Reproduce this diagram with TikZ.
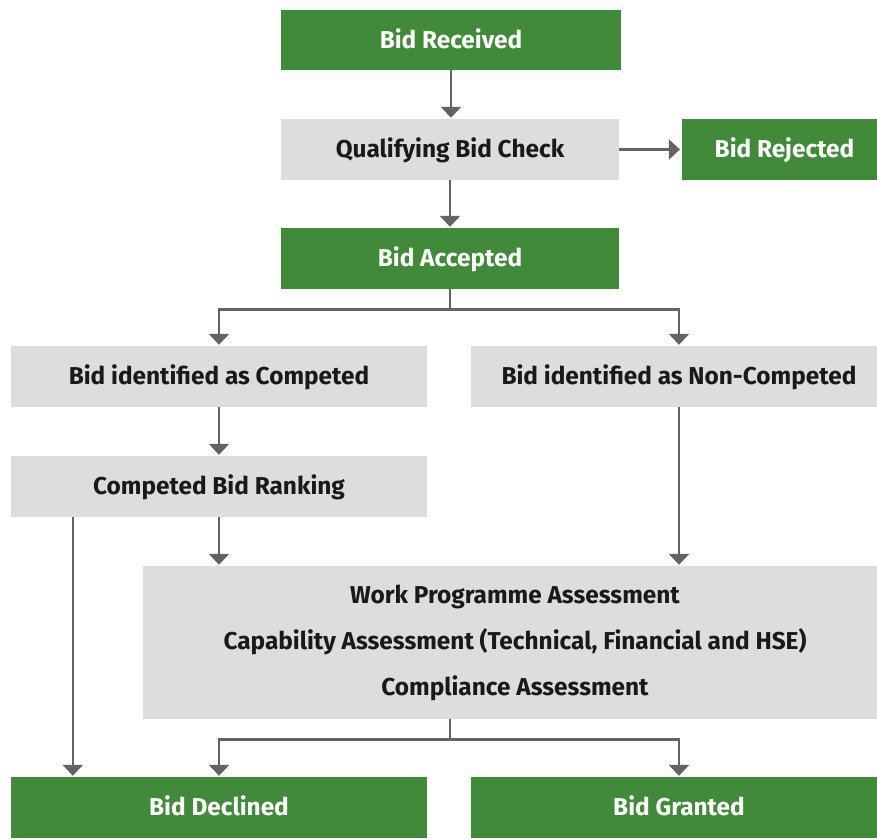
\documentclass[tikz,border=0pt]{standalone}
\usepackage{fontspec}
\setmainfont{Fira Sans}
\usetikzlibrary{arrows.meta,positioning}
\definecolor{bidgreen}{RGB}{65,138,58}
\definecolor{bidgrey}{RGB}{220,221,223}
\definecolor{linegrey}{RGB}{99,99,102}

\begin{document}
\begin{tikzpicture}[x=1pt,y=-1pt,
    box/.style={minimum height=61pt,inner sep=0pt,text height=16.8pt,text depth=0pt,
        font=\bfseries\fontsize{24.4}{28}\selectfont},
    greenbox/.style={box,fill=bidgreen,text=white},
    greybox/.style={box,fill=bidgrey,text=black!90},
    flow/.style={draw=linegrey,line width=2.6pt,-{Triangle[width=20pt,length=11pt]},shorten >=1pt}]
        \clip (0,0) rectangle (877,838);
        \fill[white] (0,0) rectangle (877,838);
        % top part
        \node[greenbox,minimum width=340pt,minimum height=60pt] (recv) at (451,40) {Bid Received};
        \node[greybox,minimum width=338pt] (check) at (450,149.5) {Qualifying Bid Check};
        \node[greenbox,minimum width=205pt] (rej) at (784.5,149.5) {Bid Rejected};
        \node[greenbox,minimum width=338pt] (acc) at (450,258.5) {Bid Accepted};
        % two kinds of bids
        \node[greybox,minimum width=416pt] (comp) at (219,376.5) {Bid identified as Competed};
        \node[greybox,minimum width=416pt] (noncomp) at (679,376.5) {Bid identified as Non-Competed};
        \node[greybox,minimum width=416pt] (rank) at (219,486.5) {Competed Bid Ranking};
        \node[fill=bidgrey,text=black!90,inner sep=0pt,minimum width=744pt,minimum height=153pt,align=center,
            font=\bfseries\fontsize{24.4}{46}\selectfont] (assess) at (515,642.5)
            {Work Programme Assessment\\Capability Assessment (Technical, Financial and HSE)\\Compliance Assessment};
        % outcome
        \node[greenbox,minimum width=416pt] (decl) at (219,807.5) {Bid Declined};
        \node[greenbox,minimum width=416pt] (grant) at (679,807.5) {Bid Granted};

        \draw[flow] (recv.south) -- (recv.south |- check.north);
        \draw[flow,shorten >=2pt] (check) -- (rej);
        \draw[flow] (check) -- (acc);
        \draw[flow] (acc.south) -- ++(0,20) -| (comp.north);
        \draw[flow] (acc.south) -- ++(0,20) -| (noncomp.north);
        \draw[flow] (comp) -- (rank);
        \draw[flow] (rank.south) -- (rank.south |- assess.north);
        \draw[flow] (noncomp.south) -- (noncomp.south |- assess.north);
        \draw[flow] ([xshift=62pt]rank.south west) -- ([xshift=62pt]decl.north west);
        \draw[flow] (assess.south -| acc.south) -- ++(0,20) -| (decl.north);
        \draw[flow] (assess.south -| acc.south) -- ++(0,20) -| (grant.north);
      \end{tikzpicture}
\end{document}
